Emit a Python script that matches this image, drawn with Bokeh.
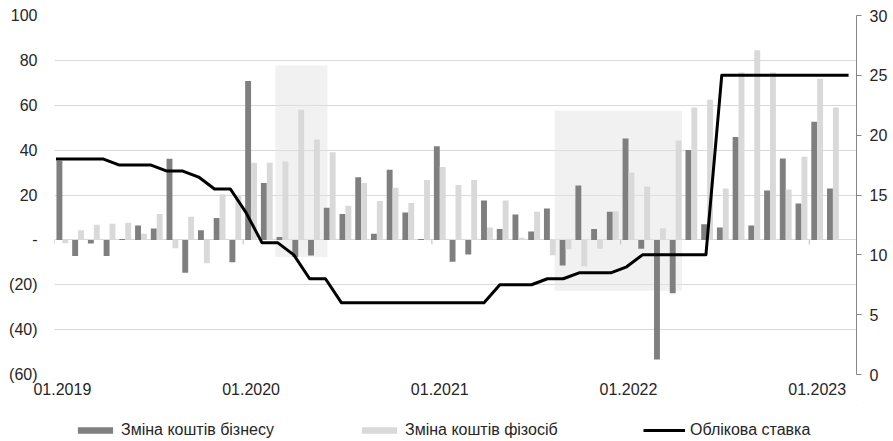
from bokeh.plotting import figure
from bokeh.layouts import column
from bokeh.models import (Range1d, LinearAxis, FixedTicker, Legend, LegendItem,
                          ColumnDataSource)
from bokeh.transform import dodge
from bokeh.embed import file_html
from bokeh.resources import INLINE

# ---------------- data ----------------
year_labels = ["01.2019", "01.2020", "01.2021", "01.2022", "01.2023"]

business = [35.3, -7.2, -1.6, -7.2, 0.4, 6.4, 5.1, 36.2, -14.6, 4.3, 9.8, -10.0,
            70.8, 25.3, 1.3, -7.6, -7.0, 14.3, 11.5, 27.9, 2.7, 31.3, 12.2, 0.4,
            41.7, -9.8, -6.5, 17.5, 4.9, 11.3, 3.7, 14.0, -11.4, 24.2, 4.9, 12.5,
            45.2, -3.9, -53.3, -23.8, 40.1, 7.0, 5.5, 45.9, 6.4, 22.0, 36.3, 16.2,
            52.7, 22.9]

households = [-1.5, 4.3, 6.7, 7.2, 7.6, 2.7, 11.5, -3.7, 10.3, -10.4, 20.3, 20.0,
              34.4, 34.4, 34.9, 58.0, 44.7, 39.0, 15.2, 25.3, 17.3, 23.2, 16.4, 26.7,
              32.5, 24.5, 26.7, 5.5, 17.5, 1.0, 12.5, -6.8, -4.2, -11.7, -3.9, 12.8,
              30.0, 23.8, 5.2, 44.3, 59.0, 62.4, 22.9, 74.6, 84.5, 74.6, 22.4, 37.1,
              71.8, 59.0]

key_rate = [18, 18, 18, 18, 17.5, 17.5, 17.5, 17, 17, 16.5, 15.5, 15.5,
            13.5, 11, 11, 10, 8, 8, 6, 6, 6, 6, 6, 6,
            6, 6, 6, 6, 7.5, 7.5, 7.5, 8, 8, 8.5, 8.5, 8.5,
            9, 10, 10, 10, 10, 10, 25, 25, 25, 25, 25, 25,
            25, 25, 25]

series_names = ["Зміна коштів бізнесу", "Зміна коштів фізосіб", "Облікова ставка"]

# highlighted periods (month index units, left-axis value units)
hl_start = [14.05, 31.8]
hl_end = [17.35, 39.9]
hl_low = [-7.6, -22.7]
hl_high = [77.7, 57.5]

left_ticks = [-60, -40, -20, 0, 20, 40, 60, 80, 100]
right_ticks = [0, 5, 10, 15, 20, 25, 30]

# ---------------- styles ----------------
FONT = "Liberation Sans"
FS = "16px"
TXT = "#262626"
DARK = "#7f7f7f"
LIGHT = "#d9d9d9"
GRID = "#d9d9d9"
W = 893
FRAME_LEFT = 54

n_bars = len(business)
n_rate = len(key_rate)

bar_src = ColumnDataSource(dict(
    x=[i + 0.5 for i in range(n_bars)],
    business=business,
    households=households,
))
rate_src = ColumnDataSource(dict(x=list(range(n_rate)), rate=key_rate))

p = figure(width=W, height=405, output_backend="svg", toolbar_location=None,
           x_range=Range1d(0, n_bars + 1), y_range=Range1d(-60, 100),
           min_border_left=FRAME_LEFT, min_border_right=37, min_border_top=15,
           min_border_bottom=31)
p.extra_x_ranges = {"rx": Range1d(-0.095, n_rate - 1 + 0.5)}
p.extra_y_ranges = {"ry": Range1d(0, 30)}
p.outline_line_color = None
p.background_fill_color = "white"
p.border_fill_color = "white"

# grid
p.xgrid.visible = False
p.ygrid.ticker = FixedTicker(ticks=left_ticks)
p.ygrid.grid_line_color = GRID
p.ygrid.grid_line_width = 1

# highlighted boxes
p.quad(left=hl_start, right=hl_end, bottom=hl_low, top=hl_high,
       fill_color="#e4e4e4", fill_alpha=0.5, line_color=None)

# bars
bw = 0.375
p.vbar(x=dodge("x", -bw / 2, range=p.x_range), top="business", width=bw,
       source=bar_src, fill_color=DARK, line_color=None)
p.vbar(x=dodge("x", bw / 2, range=p.x_range), top="households", width=bw,
       source=bar_src, fill_color=LIGHT, line_color=None)

# small ticks on zero line at year boundaries
yr_pos = [12 * k for k in range(len(year_labels))]
p.segment(x0=yr_pos, y0=[0] * len(yr_pos), x1=yr_pos, y1=[-2] * len(yr_pos),
          line_color="#bfbfbf", line_width=1)

# key rate line
p.line(x="x", y="rate", source=rate_src, x_range_name="rx",
       y_range_name="ry", line_color="black", line_width=3, line_join="round")

# axes
ax_b = p.xaxis[0]
ax_b.ticker = FixedTicker(ticks=[12 * k + 0.5 for k in range(len(year_labels))])
ax_b.major_label_overrides = {12 * k + 0.5: lab for k, lab in enumerate(year_labels)}
ax_b.axis_line_color = None
ax_b.major_tick_line_color = None
ax_b.minor_tick_line_color = None
ax_b.major_tick_out = 0
ax_b.major_tick_in = 0
ax_b.major_label_standoff = 8

ax_l = p.yaxis[0]
ax_l.ticker = FixedTicker(ticks=left_ticks)
ax_l.major_label_overrides = {t: ("-" if t == 0 else (f"({abs(t)})" if t < 0 else str(t)))
                              for t in left_ticks}
ax_l.axis_line_color = None
ax_l.major_tick_line_color = None
ax_l.minor_tick_line_color = None
ax_l.major_tick_out = 0
ax_l.major_tick_in = 0
ax_l.major_label_standoff = 17

ax_r = LinearAxis(y_range_name="ry", ticker=FixedTicker(ticks=right_ticks))
ax_r.axis_line_color = "#868686"
ax_r.major_tick_line_color = "#868686"
ax_r.minor_tick_line_color = None
ax_r.major_tick_in = 0
ax_r.major_tick_out = 5
ax_r.major_label_standoff = 8
p.add_layout(ax_r, "right")

for ax in (ax_b, ax_l, ax_r):
    ax.major_label_text_font = FONT
    ax.major_label_text_font_size = FS
    ax.major_label_text_color = TXT

# ---------------- legend strip ----------------
lg = figure(width=W, height=36, output_backend="svg", toolbar_location=None,
            x_axis_type=None, y_axis_type=None,
            x_range=Range1d(0, 1), y_range=Range1d(0, 1),
            min_border_left=0, min_border_right=0, min_border_top=0,
            min_border_bottom=0)
lg.outline_line_color = None
lg.grid.visible = False
# proxy renderers placed outside the visible range (legend swatches only)
d_bus = lg.vbar(x=[5], top=[5], bottom=[4], width=0.1, fill_color=DARK, line_color=None)
d_hh = lg.vbar(x=[5], top=[5], bottom=[4], width=0.1, fill_color=LIGHT, line_color=None)
d_rate = lg.line(x=[5, 6], y=[5, 5], line_color="black", line_width=3)

legend_specs = [
    (series_names[0], d_bus, 73, 44, 4),
    (series_names[1], d_hh, 357, 44, 4),
    (series_names[2], d_rate, 643, 42, 5),
]
for name, rend, x_left, gw, so in legend_specs:
    leg = Legend(items=[LegendItem(label=name, renderers=[rend])],
                 location=(x_left - FRAME_LEFT, 2), orientation="horizontal")
    leg.glyph_width = gw
    leg.glyph_height = 8
    leg.label_standoff = so
    leg.padding = 0
    leg.margin = 0
    leg.border_line_color = None
    leg.background_fill_alpha = 0
    leg.label_text_font = FONT
    leg.label_text_font_size = FS
    leg.label_text_color = TXT
    leg.label_height = 16
    lg.add_layout(leg)

layout = column(p, lg, spacing=0)

open("out.html", "w").write(file_html(layout, INLINE))
